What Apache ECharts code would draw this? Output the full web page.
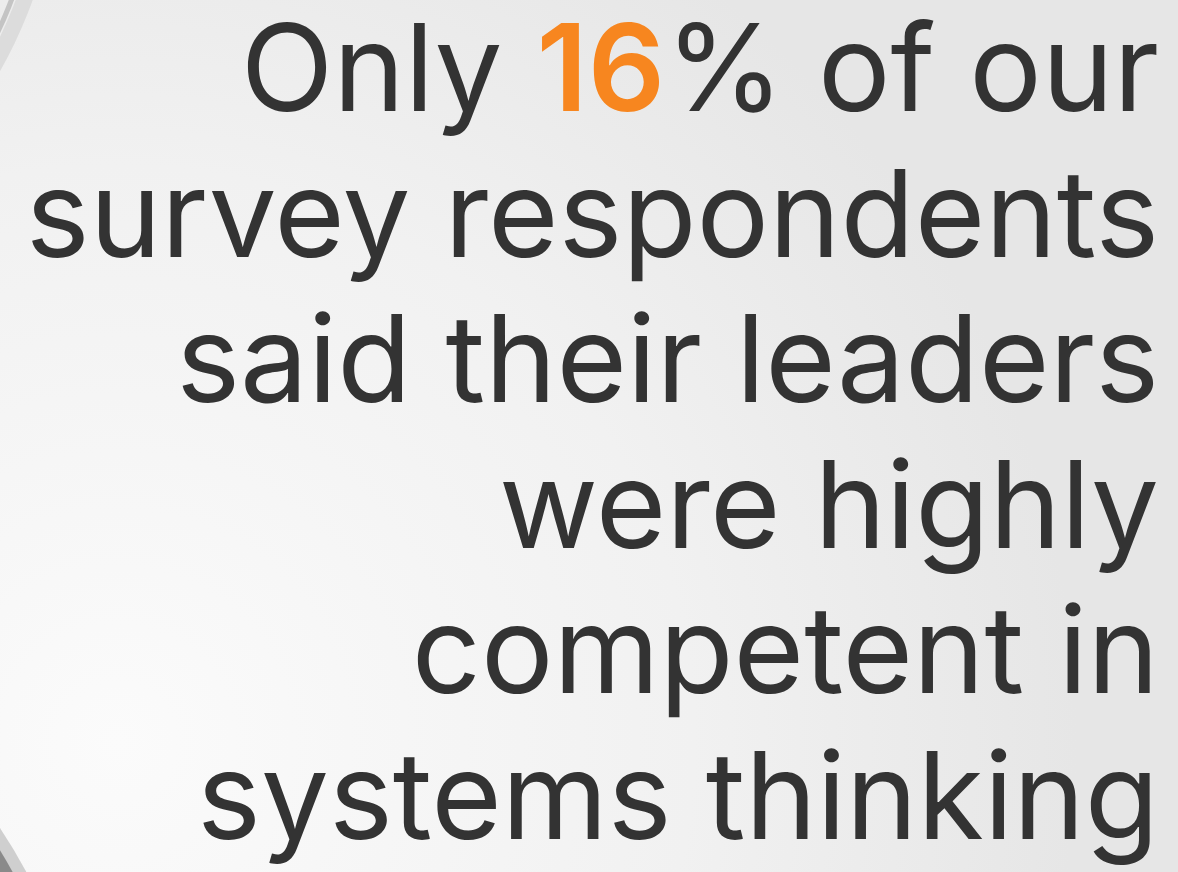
<!DOCTYPE html>
<html><head><meta charset="utf-8">
<script src="https://cdn.jsdelivr.net/npm/echarts@6/dist/echarts.min.js"></script>
<style>html,body{margin:0;padding:0;background:#f2f2f2}#c{width:1178px;height:872px}</style>
</head><body><div id="c"></div>
<script>
const highlightValue = '16';
const lines = [
  ['Only ', highlightValue, '% of our'],
  ['survey respondents'],
  ['said their leaders'],
  ['were highly'],
  ['competent in'],
  ['systems thinking']
];
const chart = echarts.init(document.getElementById('c'));
const FS = 121, RIGHT = 1159, BASE0 = 120, STEP = 145.5;
const elements = [];
elements.push({type:'rect', shape:{x:0,y:0,width:1178,height:872}, style:{fill:{type:'radial',x:0.1,y:0.85,r:1.1,colorStops:[{offset:0,color:'#fbfbfb'},{offset:0.6,color:'#f1f1f1'},{offset:1,color:'#e6e6e6'}]}}, z:0});
// decorative arcs
elements.push({type:'circle', shape:{cx:-400,cy:-156,r:452}, style:{fill:'none',stroke:'#dcdcdc',lineWidth:16}, z:1});
elements.push({type:'circle', shape:{cx:-400,cy:-156,r:440}, style:{fill:'none',stroke:'#c4c4c4',lineWidth:5}, z:1});
elements.push({type:'circle', shape:{cx:-400,cy:-156,r:420}, style:{fill:'none',stroke:'#2ec4bf',lineWidth:6}, z:1});
elements.push({type:'circle', shape:{cx:-400,cy:1097,r:482}, style:{fill:'#cfcfcf',stroke:null}, z:1});
elements.push({type:'circle', shape:{cx:-400,cy:1097,r:470}, style:{fill:'#8a8a8a',stroke:null}, z:1});
lines.forEach((parts, i) => {
  let text;
  if (parts.length === 3) text = '{n|' + parts[0] + '}{h|' + parts[1] + '}{n|' + parts[2] + '}';
  else text = '{n|' + parts[0] + '}';
  elements.push({
    type:'text', x:RIGHT, y:BASE0 + i*STEP, z:5,
    style:{
      text:text, align:'right', verticalAlign:'bottom',
      rich:{
        n:{fontFamily:'Inter', fontSize:FS, fontWeight:400, fill:'#333333', lineHeight:FS, padding:[0,0,-0.25*FS,0]},
        h:{fontFamily:'Inter', fontSize:FS, fontWeight:600, fill:'#F7861F', lineHeight:FS, padding:[0,0,-0.25*FS,0]}
      }
    }
  });
});
chart.setOption({graphic:{elements:elements}});
</script></body></html>
